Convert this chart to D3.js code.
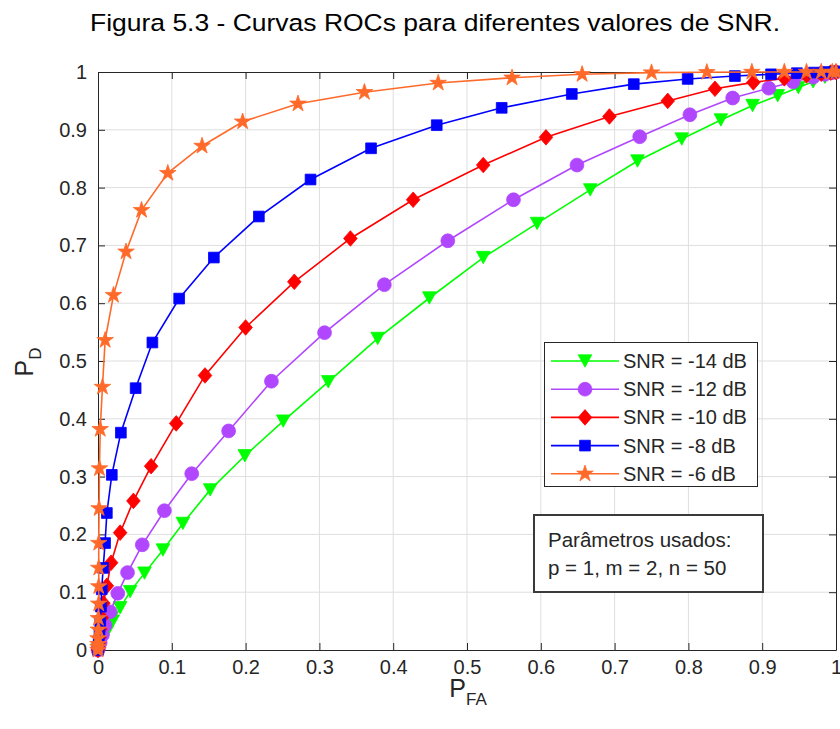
<!DOCTYPE html>
<html>
<head>
<meta charset="utf-8">
<script src="https://cdn.jsdelivr.net/npm/d3@7"></script>
<style>
  body { margin: 0; background: #fff; }
  svg text { font-family: "Liberation Sans", Arial, Helvetica, sans-serif; }
</style>
</head>
<body>
<svg id="chart" width="840" height="729"></svg>
<script>
// ROC curves (PFA, PD) for each SNR
let pfa14 = [0, 0.002, 0.006, 0.012, 0.02, 0.030, 0.0435, 0.063, 0.088, 0.115, 0.152, 0.199, 0.251, 0.312, 0.379, 0.449, 0.522, 0.595, 0.667, 0.731, 0.791, 0.844, 0.887, 0.921, 0.949, 0.969, 0.985, 0.995, 1];
let pd14  = [0, 0.005, 0.016, 0.031, 0.05, 0.073, 0.101, 0.133, 0.173, 0.219, 0.277, 0.336, 0.396, 0.464, 0.539, 0.609, 0.679, 0.738, 0.796, 0.846, 0.884, 0.917, 0.942, 0.959, 0.973, 0.983, 0.991, 0.997, 1];

let pfa12 = [0, 0.001, 0.003, 0.006, 0.0096, 0.0164, 0.0268, 0.040, 0.060, 0.090, 0.127, 0.177, 0.235, 0.307, 0.388, 0.474, 0.563, 0.649, 0.734, 0.802, 0.860, 0.909, 0.942, 0.969, 0.985, 0.995, 1];
let pd12  = [0, 0.005, 0.013, 0.026, 0.043, 0.066, 0.098, 0.134, 0.182, 0.241, 0.305, 0.379, 0.465, 0.549, 0.632, 0.708, 0.779, 0.839, 0.888, 0.926, 0.955, 0.972, 0.983, 0.991, 0.996, 0.999, 1];

let pfa10 = [0, 0.0005, 0.001, 0.002, 0.003, 0.005, 0.0073, 0.012, 0.0178, 0.030, 0.048, 0.072, 0.106, 0.145, 0.200, 0.266, 0.342, 0.427, 0.522, 0.607, 0.693, 0.772, 0.836, 0.888, 0.930, 0.960, 0.98, 0.993, 1];
let pd10  = [0, 0.005, 0.012, 0.022, 0.036, 0.056, 0.081, 0.111, 0.151, 0.203, 0.258, 0.318, 0.392, 0.475, 0.558, 0.637, 0.712, 0.779, 0.839, 0.887, 0.923, 0.950, 0.971, 0.982, 0.989, 0.994, 0.997, 0.999, 1];

let pfa8 = [0, 0.0005, 0.001, 0.002, 0.003, 0.004, 0.005, 0.007, 0.0096, 0.012, 0.0187, 0.031, 0.051, 0.0737, 0.110, 0.157, 0.218, 0.288, 0.370, 0.459, 0.547, 0.642, 0.726, 0.799, 0.863, 0.912, 0.947, 0.97, 0.985, 1];
let pd8  = [0, 0.005, 0.015, 0.03, 0.05, 0.075, 0.105, 0.142, 0.185, 0.237, 0.303, 0.376, 0.453, 0.532, 0.608, 0.679, 0.750, 0.814, 0.868, 0.908, 0.938, 0.962, 0.979, 0.988, 0.993, 0.996, 0.998, 0.999, 1, 1];

let pfa6 = [0, 0, 0, 0, 0.0005, 0.0005, 0.001, 0.001, 0.001, 0.001, 0.0015, 0.002, 0.003, 0.006, 0.0097, 0.021, 0.038, 0.059, 0.0946, 0.141, 0.196, 0.271, 0.361, 0.461, 0.561, 0.656, 0.75, 0.825, 0.886, 0.93, 0.96, 0.98, 0.995, 1];
let pd6  = [0, 0.005, 0.01, 0.02, 0.035, 0.055, 0.08, 0.11, 0.142, 0.185, 0.245, 0.314, 0.382, 0.455, 0.536, 0.614, 0.689, 0.761, 0.825, 0.872, 0.914, 0.945, 0.965, 0.981, 0.990, 0.996, 0.999, 0.9995, 1, 1, 1, 1, 1, 1];

let snrLabels = ["SNR = -14 dB", "SNR = -12 dB", "SNR = -10 dB", "SNR = -8 dB", "SNR = -6 dB"];
let tickValues = [0, 0.1, 0.2, 0.3, 0.4, 0.5, 0.6, 0.7, 0.8, 0.9, 1];

// marker shapes like matlab's v and d
const triangleDown = {
  draw: function(ctx, size) {
    let w = 6.8, h = 6.2;
    ctx.moveTo(-w, -h);
    ctx.lineTo(w, -h);
    ctx.lineTo(0, h);
    ctx.closePath();
  }
};
const diamond = {
  draw: function(ctx, size) {
    let w = 6.8, h = 7.8;
    ctx.moveTo(0, -h);
    ctx.lineTo(w, 0);
    ctx.lineTo(0, h);
    ctx.lineTo(-w, 0);
    ctx.closePath();
  }
};

let series = [
  {x: pfa14, y: pd14, color: "#00ff00", sym: triangleDown, size: 100},
  {x: pfa12, y: pd12, color: "#b146ff", sym: d3.symbolCircle, size: 150},
  {x: pfa10, y: pd10, color: "#ff0000", sym: diamond, size: 100},
  {x: pfa8,  y: pd8,  color: "#0000ff", sym: d3.symbolSquare, size: 115},
  {x: pfa6,  y: pd6,  color: "#ff6a2a", sym: d3.symbolStar, size: 85}
];

let svg = d3.select("#chart");
let plotLeft = 98, plotRight = 836, plotTop = 72, plotBottom = 650;

let x = d3.scaleLinear().domain([0, 1]).range([plotLeft, plotRight]);
let y = d3.scaleLinear().domain([0, 1]).range([plotBottom, plotTop]);

let axisColor = "#262626";

// title
svg.append("text")
  .attr("x", 435).attr("y", 31)
  .attr("text-anchor", "middle")
  .attr("textLength", 690)
  .attr("lengthAdjust", "spacingAndGlyphs")
  .style("font-size", "24.5px")
  .attr("fill", "#000")
  .text("Figura 5.3 - Curvas ROCs para diferentes valores de SNR.");

// grid
let grid = svg.append("g");
grid.selectAll(".gx").data(tickValues.slice(1, -1)).enter().append("line")
  .attr("x1", d => x(d)).attr("x2", d => x(d))
  .attr("y1", plotTop).attr("y2", plotBottom)
  .attr("stroke", "#dedede").attr("stroke-width", 1);
grid.selectAll(".gy").data(tickValues.slice(1, -1)).enter().append("line")
  .attr("y1", d => y(d)).attr("y2", d => y(d))
  .attr("x1", plotLeft).attr("x2", plotRight)
  .attr("stroke", "#dedede").attr("stroke-width", 1);

// axes with inward ticks on all four sides
function styleAxis(g) {
  g.select(".domain").attr("stroke", axisColor);
  g.selectAll(".tick line").attr("stroke", axisColor);
  g.selectAll(".tick text").attr("fill", axisColor).style("font-size", "20px");
}
let fmt = d => String(+d.toFixed(1));

svg.append("g").attr("transform", `translate(0,${plotBottom})`)
  .call(d3.axisBottom(x).tickValues(tickValues).tickFormat(fmt).tickSizeInner(-7).tickSizeOuter(0).tickPadding(10))
  .call(styleAxis);
svg.append("g").attr("transform", `translate(0,${plotTop})`)
  .call(d3.axisTop(x).tickValues(tickValues).tickFormat("").tickSizeInner(-7).tickSizeOuter(0))
  .call(styleAxis);
svg.append("g").attr("transform", `translate(${plotLeft},0)`)
  .call(d3.axisLeft(y).tickValues(tickValues).tickFormat(fmt).tickSizeInner(-7).tickSizeOuter(0).tickPadding(11))
  .call(styleAxis);
svg.append("g").attr("transform", `translate(${plotRight},0)`)
  .call(d3.axisRight(y).tickValues(tickValues).tickFormat("").tickSizeInner(-7).tickSizeOuter(0))
  .call(styleAxis);

// axis labels
let xl = svg.append("text")
  .attr("x", 468).attr("y", 697)
  .attr("text-anchor", "middle")
  .attr("fill", axisColor)
  .style("font-size", "25px");
xl.append("tspan").text("P");
xl.append("tspan").attr("dy", 8).style("font-size", "17px").text("FA");

let yl = svg.append("text")
  .attr("transform", "translate(33,362) rotate(-90)")
  .attr("text-anchor", "middle")
  .attr("fill", axisColor)
  .style("font-size", "25px");
yl.append("tspan").text("P");
yl.append("tspan").attr("dy", 8).style("font-size", "17px").text("D");

// curves
let line = d3.line().x(d => x(d[0])).y(d => y(d[1]));
let curves = svg.append("g");
series.forEach(function(s) {
  let pts = s.x.map((v, i) => [v, s.y[i]]);
  curves.append("path")
    .datum(pts)
    .attr("d", line)
    .attr("fill", "none")
    .attr("stroke", s.color)
    .attr("stroke-width", 1.6);
  curves.selectAll(null).data(pts).enter().append("path")
    .attr("transform", d => `translate(${x(d[0])},${y(d[1])})`)
    .attr("d", d3.symbol().type(s.sym).size(s.size))
    .attr("fill", s.color)
    .attr("stroke", s.color)
    .attr("stroke-width", 0.8);
});

// legend
let lg = svg.append("g");
lg.append("rect")
  .attr("x", 544.5).attr("y", 342.5).attr("width", 213).attr("height", 144)
  .attr("fill", "#fff").attr("stroke", axisColor).attr("stroke-width", 1);
let rows = lg.selectAll(".row").data(series).enter().append("g")
  .attr("transform", (d, i) => `translate(0,${361 + i * 28.2})`);
rows.append("line")
  .attr("x1", 551).attr("x2", 619).attr("y1", 0).attr("y2", 0)
  .attr("stroke", d => d.color).attr("stroke-width", 1.6);
rows.append("path")
  .attr("transform", "translate(585,0)")
  .attr("d", d => d3.symbol().type(d.sym).size(d.size)())
  .attr("fill", d => d.color).attr("stroke", d => d.color).attr("stroke-width", 0.8);
rows.append("text")
  .attr("x", 623).attr("y", 7)
  .attr("fill", axisColor)
  .style("font-size", "20px")
  .text((d, i) => snrLabels[i]);

// parameters box
let pb = svg.append("g");
pb.append("rect")
  .attr("x", 534).attr("y", 515).attr("width", 229).attr("height", 77)
  .attr("fill", "#fff").attr("stroke", "#3a3a3a").attr("stroke-width", 2);
pb.append("text").attr("x", 548).attr("y", 547)
  .attr("fill", axisColor).style("font-size", "20.5px")
  .text("Parâmetros usados:");
pb.append("text").attr("x", 548).attr("y", 575)
  .attr("fill", axisColor).style("font-size", "20.5px")
  .text("p = 1, m = 2, n = 50");
</script>
</body>
</html>
